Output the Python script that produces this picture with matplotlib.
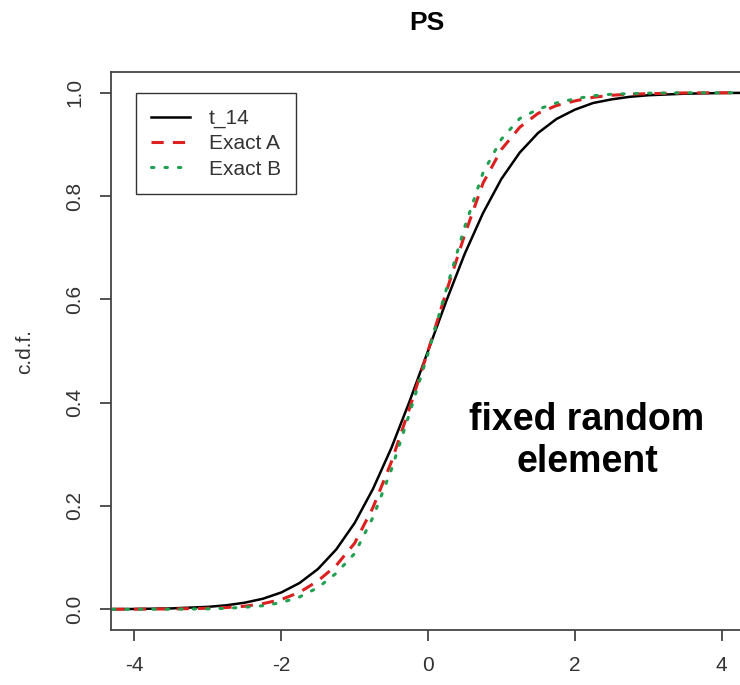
import matplotlib
matplotlib.use("Agg")
import matplotlib.pyplot as plt

plt.rcParams['font.family'] = ['Liberation Sans', 'DejaVu Sans']

# values
x_vals = [-4.3, -4.0, -3.5, -3.0, -2.75, -2.5, -2.25, -2.0, -1.75, -1.5, -1.25,
          -1.0, -0.75, -0.5, -0.25, 0.0, 0.25, 0.5, 0.75, 1.0, 1.25, 1.5,
          1.75, 2.0, 2.25, 2.5, 2.75, 3.0, 3.5, 4.0, 4.3]
t14 = [0.0004, 0.0007, 0.0018, 0.0048, 0.0078, 0.0128, 0.0205, 0.0326, 0.051,
       0.078, 0.116, 0.167, 0.233, 0.312, 0.403, 0.5, 0.597, 0.688, 0.767,
       0.833, 0.884, 0.922, 0.949, 0.967, 0.98, 0.987, 0.992, 0.995, 0.998,
       0.9993, 0.9996]
exact_a = [0.0002, 0.0003, 0.0008, 0.002, 0.0035, 0.006, 0.011, 0.019, 0.033,
           0.055, 0.085, 0.128, 0.197, 0.285, 0.39, 0.5, 0.615, 0.725, 0.825,
           0.89, 0.933, 0.96, 0.975, 0.984, 0.991, 0.995, 0.997, 0.998, 0.9995,
           0.9998, 0.9999]
exact_b = [0.0001, 0.0001, 0.0003, 0.001, 0.002, 0.004, 0.007, 0.013, 0.024,
           0.042, 0.07, 0.108, 0.178, 0.27, 0.38, 0.495, 0.62, 0.74, 0.845,
           0.91, 0.95, 0.968, 0.98, 0.988, 0.994, 0.997, 0.998, 0.999, 0.9998,
           0.9999, 1.0]
x_ticks = [-4, -2, 0, 2, 4]
y_ticks = [0.0, 0.2, 0.4, 0.6, 0.8, 1.0]

W, H = 740, 685
fig = plt.figure(figsize=(W / 100, H / 100), dpi=100)
ax = fig.add_axes([111 / W, 1 - 630 / H, 634 / W, 558 / H])

ax.plot(x_vals, t14, color='black', lw=1.8, label='t_14')
ax.plot(x_vals, exact_a, color='#dc2020', lw=2.2, dashes=(4, 3), label='Exact A')
ax.plot(x_vals, exact_b, color='#20a050', lw=2.2, dashes=(0.8, 3.6),
        dash_capstyle='round', label='Exact B')

ax.set_xlim(-4.32, 4.32)
ax.set_ylim(-0.04, 1.04)
ax.set_xticks(x_ticks)
ax.set_xticklabels([str(v) for v in x_ticks])
ax.set_yticks(y_ticks)
ax.set_yticklabels(['%.1f' % v for v in y_ticks], rotation=90, va='center')

for s in ax.spines.values():
    s.set_color('#444444')
    s.set_linewidth(1.3)
ax.tick_params(axis='both', length=8, width=1.2, color='#333333',
               labelsize=15, labelcolor='#333333')
ax.tick_params(axis='x', pad=11)
ax.tick_params(axis='y', pad=11)

fig.text(25 / W, 1 - 351 / H, 'c.d.f.', rotation=90, ha='center', va='center',
         fontsize=15, color='#333333')
fig.text(427 / W, 1 - 23 / H, 'PS', ha='center', va='center', fontsize=19,
         fontweight='bold')

fig.text(587 / W, 1 - 441 / H, 'fixed random\nelement', ha='center',
         va='center', fontsize=27, fontweight='bold', linespacing=1.2)

leg = ax.legend(loc='upper left', bbox_to_anchor=(0.039, 0.962),
                borderaxespad=0, fontsize=15, frameon=True, fancybox=False,
                handlelength=1.85, handletextpad=0.9, labelspacing=0.3,
                borderpad=0.75)
leg.get_frame().set_edgecolor('black')
leg.get_frame().set_linewidth(1.0)
for t in leg.get_texts():
    t.set_color('#333333')

fig.savefig('out.png', dpi=100)
